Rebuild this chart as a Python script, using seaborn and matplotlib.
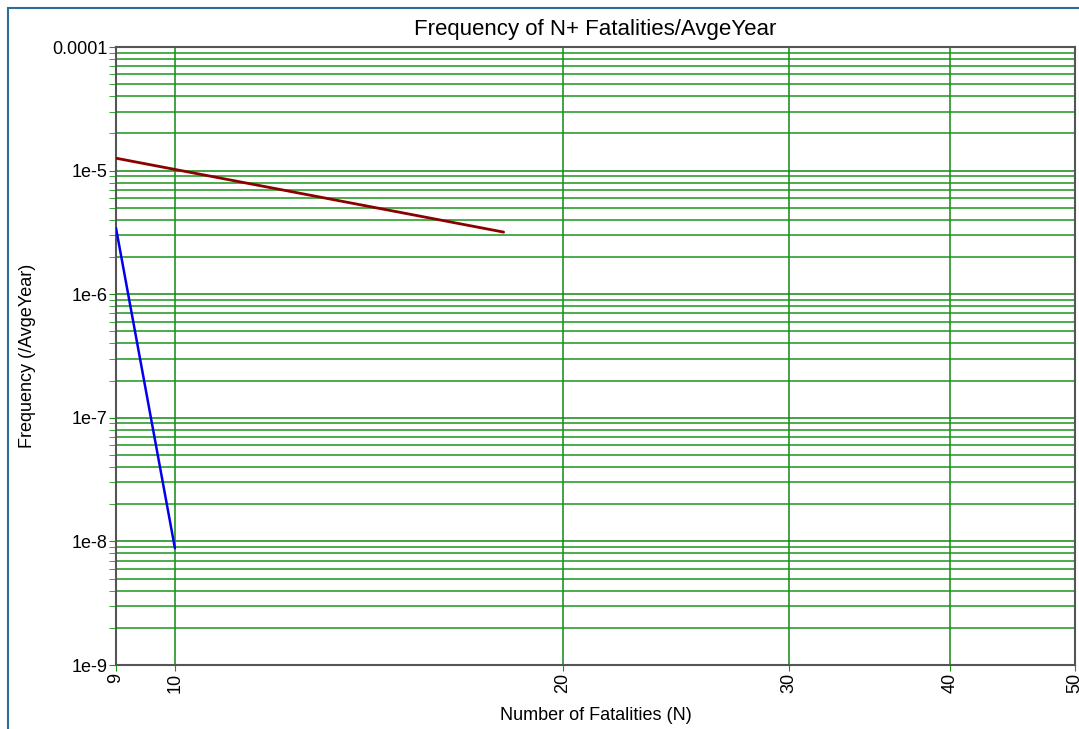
import matplotlib
matplotlib.use("Agg")
import matplotlib.pyplot as plt
import matplotlib.ticker as mticker
from matplotlib.patches import Rectangle
import seaborn as sns
import pandas as pd
import numpy as np

# Data
red_n = [9, 18]
red_f = [1.26e-5, 3.18e-6]
blue_n = [9, 10]
blue_f = [3.43e-6, 8.8e-9]
x_ticks = [9, 10, 20, 30, 40, 50]
y_ticks = [1e-9, 1e-8, 1e-7, 1e-6, 1e-5, 1e-4]
y_tick_labels = ["1e-9", "1e-8", "1e-7", "1e-6", "1e-5", "0.0001"]

sns.set_style("white")
plt.rcParams['font.family'] = ['Liberation Sans', 'DejaVu Sans']
plt.rcParams['text.color'] = 'black'
plt.rcParams['axes.labelcolor'] = 'black'
plt.rcParams['xtick.color'] = 'black'
plt.rcParams['ytick.color'] = 'black'

fig = plt.figure(figsize=(10.79, 7.29), dpi=100)
ax = fig.add_axes([116/1079, 1 - 665/729, (1075 - 116)/1079, (665 - 47)/729])

df_red = pd.DataFrame({"N": red_n, "F": red_f})
df_blue = pd.DataFrame({"N": blue_n, "F": blue_f})

ax.set_xscale("log")
ax.set_yscale("log")

sns.lineplot(data=df_red, x="N", y="F", ax=ax, color="#8b0000", linewidth=2, zorder=5)
sns.lineplot(data=df_blue, x="N", y="F", ax=ax, color="#0000ee", linewidth=1.8, zorder=5)

ax.set_xlim(9, 50)
ax.set_ylim(1e-9, 1e-4)

ax.xaxis.set_major_locator(mticker.FixedLocator(x_ticks))
ax.xaxis.set_major_formatter(mticker.FixedFormatter([str(v) for v in x_ticks]))
ax.xaxis.set_minor_locator(mticker.NullLocator())
ax.yaxis.set_major_locator(mticker.FixedLocator(y_ticks))
ax.yaxis.set_major_formatter(mticker.FixedFormatter(y_tick_labels))
ax.yaxis.set_minor_locator(mticker.LogLocator(base=10, subs=np.arange(2, 10)))
ax.yaxis.set_minor_formatter(mticker.NullFormatter())

ax.grid(True, which="major", axis="both", color="#108a10", linewidth=1.1)
ax.grid(True, which="minor", axis="y", color="#1a961a", linewidth=1.1)

ax.tick_params(axis="x", which="major", labelrotation=90, length=4, color="#119911",
               labelsize=13, pad=2, bottom=True)
ax.tick_params(axis="y", which="major", length=5, color="#119911", labelsize=13, pad=1, left=True)
ax.tick_params(axis="y", which="minor", length=5, color="#119911", left=True)

for s in ax.spines.values():
    s.set_color("#555555")
    s.set_linewidth(1.5)

ax.set_title("Frequency of N+ Fatalities/AvgeYear", fontsize=16, pad=9)
ax.set_xlabel("Number of Fatalities (N)", fontsize=13, labelpad=10)
ax.set_ylabel("Frequency (/AvgeYear)", fontsize=13, labelpad=12)

fig.patches.append(Rectangle((8/1079, -0.01), 1.05, 1 - 8/729 + 0.01, transform=fig.transFigure,
                             fill=False, edgecolor="#2a6f9a", linewidth=1.5))

fig.savefig("out.png", dpi=100)
